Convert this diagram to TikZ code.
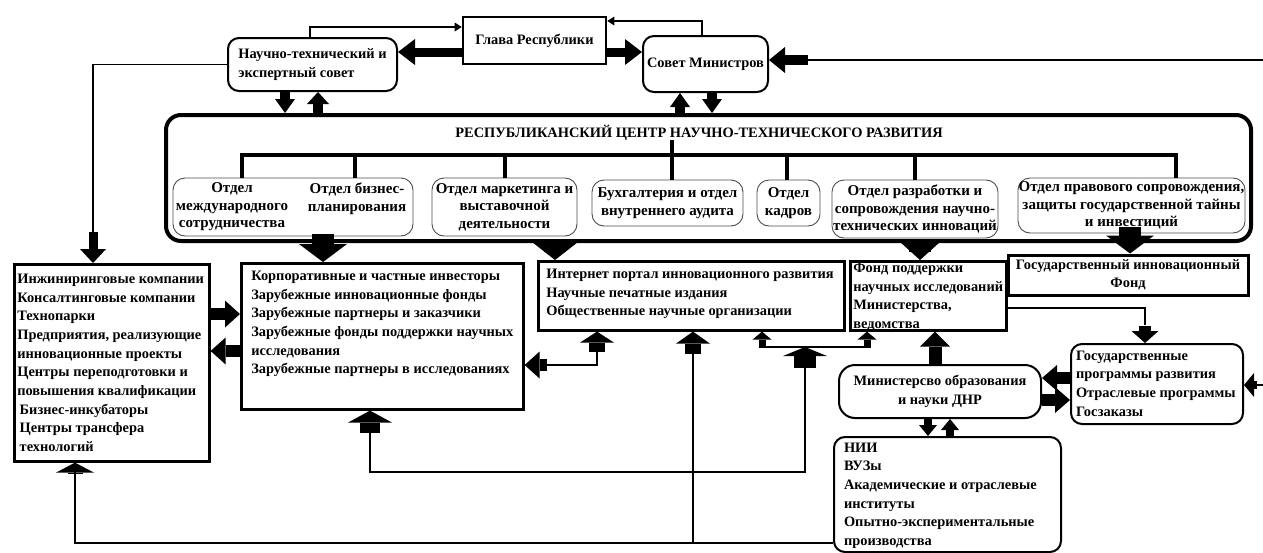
\documentclass[tikz,border=0pt]{standalone}
\usepackage{fontspec}
\setmainfont{Liberation Serif}
\usetikzlibrary{arrows.meta}
\newcommand{\fs}{\fontsize{14.4}{18.7}\selectfont\bfseries}
\newcommand{\dfs}{\fontsize{15}{17.5}\selectfont\bfseries}
\newcommand{\tbx}[4]{\parbox[c][#2][t]{#1}{\fs\rule{0pt}{#3}#4}}
\tikzset{
 hard/.style={draw, line width=2.6pt, inner ysep=0pt},
 rbox/.style={draw, line width=2pt, rounded corners=11pt, inner ysep=0pt},
 dept/.style={draw=black!70, line width=0.9pt, rounded corners=12pt, inner sep=0pt, align=center, font=\dfs},
 ln/.style={line width=1.8pt},
 bus/.style={line width=3.4pt},
 tipS/.style={-{Triangle[width=9pt,length=7pt,line width=0pt]}},
 mkA/.style n args={3}{line width=#1, -{Triangle[width=#2,length=#3,line width=0pt]}},
}
\begin{document}
\begin{tikzpicture}[x=1pt,y=-1pt, every node/.style={font=\fs}]
\useasboundingbox (0,0) rectangle (1263,552);

% ---------- top row
\node[hard, inner xsep=0pt, minimum width=143pt, minimum height=47pt] (glava) at (534.5,40.5) {Глава Республики};
\node[rbox, minimum width=169pt, minimum height=53pt, align=left] (ntes) at (312.5,64.5) {Научно-технический и\\экспертный совет};
\node[rbox, minimum width=125pt, minimum height=56pt] (sovet) at (705.5,64) {Совет Министров};

% ---------- centre
\node[draw, line width=4pt, rounded corners=15pt, minimum width=1085pt, minimum height=126pt, inner sep=0pt] (rc) at (708.5,178) {};
\node (title) at (699,133) {РЕСПУБЛИКАНСКИЙ ЦЕНТР НАУЧНО-ТЕХНИЧЕСКОГО РАЗВИТИЯ};

\node[dept, minimum width=240pt, minimum height=58pt] (d1) at (293,207) {};
\node[align=center, inner sep=0pt, font=\dfs] (d1a) at (232,207) {Отдел\\международного\\сотрудничества};
\node[align=center, inner sep=0pt, font=\dfs] (d1b) at (357,198.5) {Отдел бизнес-\\планирования};
\node[dept, minimum width=145pt, minimum height=58pt] (d2) at (504.5,207) {Отдел маркетинга и\\выставочной\\деятельности};
\node[dept, minimum width=151pt, minimum height=46pt] (d3) at (667.5,203) {Бухгалтерия и отдел\\внутреннего аудита};
\node[dept, minimum width=63pt, minimum height=46pt] (d4) at (788.5,203) {Отдел\\кадров};
\node[dept, minimum width=166pt, minimum height=58pt] (d5) at (915,209) {Отдел разработки и\\сопровождения научно-\\технических инноваций};
\node[dept, minimum width=227pt, minimum height=55pt] (d6) at (1131.5,205.5) {Отдел правового сопровождения,\\защиты государственной тайны\\и инвестиций};

% ---------- lower boxes
\node[hard, anchor=north west, inner xsep=3pt] (inz) at (13,263) {\tbx{189pt}{197pt}{19pt}{\mbox{Инжиниринговые компании}\\\mbox{Консалтинговые компании}\\Технопарки\\\mbox{Предприятия, реализующие}\\\mbox{инновационные проекты}\\\mbox{Центры переподготовки и}\\\mbox{повышения квалификации}\\\mbox{\,Бизнес-инкубаторы}\\\mbox{\,Центры трансфера}\\\mbox{\,технологий}}};
\node[hard, anchor=north west, inner xsep=10pt] (korp) at (240,262) {\tbx{262pt}{146pt}{17pt}{\mbox{Корпоративные и частные инвесторы}\\\mbox{Зарубежные инновационные фонды}\\\mbox{Зарубежные партнеры и заказчики}\\\mbox{Зарубежные фонды поддержки научных}\\исследования\\\mbox{Зарубежные партнеры в исследованиях}}};
\node[hard, anchor=north west, inner xsep=8pt] (inet) at (537,260) {\tbx{290pt}{69pt}{17pt}{\mbox{Интернет портал инновационного развития}\\\mbox{Научные печатные издания}\\\mbox{Общественные научные организации}}};
\node[hard, anchor=north west, inner xsep=3pt] (fond) at (849,260) {\tbx{150pt}{69pt}{11pt}{\mbox{Фонд поддержки}\\\mbox{научных исследований}\\\mbox{Министерства,}\\ведомства}};
\node[hard, line width=3pt, minimum width=240pt, minimum height=40pt, align=center, inner sep=0pt, font=\fontsize{14.4}{18}\selectfont\bfseries] (gif) at (1128,275) {Государственный инновационный\\Фонд};
\node[rbox, anchor=north west, inner xsep=5pt] (gp) at (1070,343) {\tbx{162pt}{80pt}{16pt}{\mbox{Государственные}\\\mbox{программы развития}\\\mbox{Отраслевые программы}\\Госзаказы}};
\node[rbox, rounded corners=16pt, minimum width=202pt, minimum height=53pt, align=center, font=\fontsize{14.4}{18.5}\selectfont\bfseries] (min) at (940,391.5) {Министерсво образования\\и науки ДНР};
\node[rbox, anchor=north west, inner xsep=10pt] (nii) at (833,436) {\tbx{207pt}{115pt}{15pt}{НИИ\\ВУЗы\\\mbox{Академические и отраслевые}\\институты\\\mbox{Опытно-экспериментальные}\\производства}};

\coordinate (rin1) at (1263,60);
\coordinate (rin2) at (1263,385);
\coordinate (bot) at (0,543);
\coordinate (gstart) at (1130,227);

% ---------- top connectors
\draw[ln,tipS] (310,0 |- ntes.north) -- (310,27) -- (glava.west |- 0,27);
\draw[ln,tipS] (702,0 |- sovet.north) -- (702,21) -- (glava.east |- 0,21);
\draw[mkA={9pt}{26pt}{17pt}] (glava.west |- 0,52) -- (ntes.east |- 0,52);
\draw[mkA={9pt}{26pt}{17pt}] (glava.east |- 0,52) -- (sovet.west |- 0,52);
\draw[ln] (rin1) -- (806,60);
\draw[mkA={10pt}{26pt}{16pt}] (808,60) -- (sovet.east |- rin1);
\draw[mkA={10pt}{20pt}{14pt}] (285,0 |- ntes.south) -- (285,0 |- rc.north);
\draw[mkA={10pt}{22pt}{12pt}] (318,0 |- rc.north) -- (318,0 |- ntes.south);
\draw[mkA={10pt}{20pt}{14pt}] (680,0 |- rc.north) -- (680,0 |- sovet.south);
\draw[mkA={10pt}{20pt}{14pt}] (712,0 |- sovet.south) -- (712,0 |- rc.north);

% ---------- bus inside the centre
\draw[bus] (242,0 |- d1.north) |- (1176,155) -- (1176,0 |- d6.north);
\draw[bus] (355,155) -- (355,0 |- d1.north);
\draw[bus] (505,155) -- (505,0 |- d2.north);
\draw[bus] (672,140) -- (672,0 |- d3.north);
\draw[bus] (787,155) -- (787,0 |- d4.north);
\draw[bus] (915,155) -- (915,0 |- d5.north);

% ---------- from centre down
\draw[mkA={22pt}{48pt}{18pt}, shorten <=-9pt] (323,0 |- rc.south) -- (323,0 |- korp.north);
\draw[mkA={22pt}{46pt}{18pt}, shorten <=-9pt] (555,0 |- rc.south) -- (555,0 |- inet.north);
\draw[mkA={22pt}{40pt}{18pt}, shorten <=-9pt] (920,0 |- rc.south) -- (920,0 |- fond.north);
\draw[mkA={22pt}{48pt}{18pt}] (gstart) -- (gstart |- gif.north);

% ---------- left side
\draw[ln] (ntes.west) -| (93,232);
\draw[mkA={9pt}{26pt}{14pt}] (93,232) -- (93,0 |- inz.north);
\draw[mkA={12pt}{27pt}{15pt}] (inz.east |- 0,314) -- (korp.west |- 0,314);
\draw[mkA={12pt}{27pt}{15pt}] (korp.west |- 0,351) -- (inz.east |- 0,351);

% ---------- between korp / inet / fond
\draw[ln] (545,365) -| (597,350);
\draw[mkA={12pt}{27pt}{15pt}] (547,365) -- (korp.east |- 0,365);
\draw[mkA={16pt}{34pt}{11pt}] (597,352) -- (597,0 |- inet.south);
\draw[ln] (693,0 |- bot) -- (693,352);
\draw[mkA={16pt}{34pt}{12pt}] (693,354) -- (693,0 |- inet.south);
\draw[ln] (762,347) -- (867,347);
\draw[mkA={7pt}{19pt}{8pt}] (762,348) -- (762,0 |- inet.south);
\draw[mkA={7pt}{19pt}{8pt}] (867,348) -- (867,0 |- fond.south);
\draw[ln] (805,366) |- (370,472) -- (370,430);
\draw[mkA={22pt}{44pt}{9pt}] (805,368) -- (805,347);
\draw[mkA={20pt}{44pt}{12pt}] (370,433) -- (370,0 |- korp.south);

% ---------- bottom line
\draw[ln] (nii.west |- bot) -| (75,472);
\draw[mkA={15pt}{38pt}{10pt}] (75,474) -- (75,0 |- inz.south);

% ---------- right side
\draw[mkA={13pt}{30pt}{15pt}] (935,0 |- min.north) -- (935,0 |- fond.south);
\draw[ln] (fond.east |- 0,308) -| (1145,325);
\draw[mkA={12pt}{27pt}{12pt}] (1145,326) -- (1145,0 |- gp.north);
\draw[mkA={12pt}{26pt}{15pt}] (gp.west |- 0,378) -- (min.east |- 0,378);
\draw[mkA={12pt}{26pt}{15pt}] (min.east |- 0,400) -- (gp.west |- 0,400);
\draw[ln] (rin2) -- (1255,385);
\draw[mkA={8pt}{24pt}{10pt}] (1257,385) -- (gp.east |- rin2);
\draw[mkA={8pt}{18pt}{11pt}] (928,0 |- min.south) -- (928,0 |- nii.north);
\draw[mkA={8pt}{18pt}{11pt}] (950,0 |- nii.north) -- (950,0 |- min.south);
\end{tikzpicture}
\end{document}
